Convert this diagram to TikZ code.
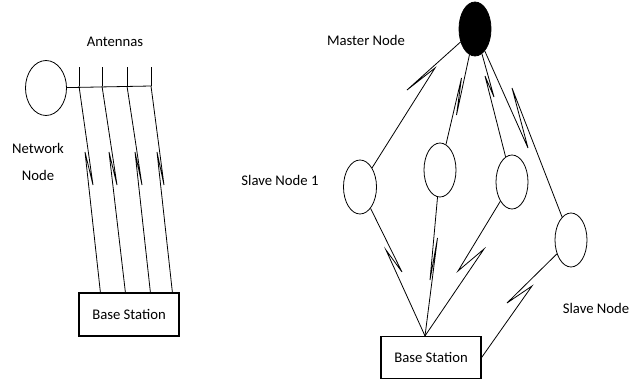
\documentclass[tikz,border=0pt]{standalone}
\usepackage{fontspec}
\setmainfont{Carlito}
\usetikzlibrary{shapes.geometric}
\tikzset{
  every node/.style={font=\fontsize{14.7}{27}\selectfont},
  unit/.style={draw, line width=0.8pt, ellipse, inner sep=0pt, minimum width=33pt, minimum height=54pt},
  station/.style={draw, line width=1.2pt, inner sep=0pt, minimum width=100pt, minimum height=43pt},
  link/.style={line width=0.8pt}
}
\begin{document}
\begin{tikzpicture}[x=1pt,y=-1pt]
    \useasboundingbox (0,0) rectangle (640,380);
    \node [unit, minimum width=41pt, minimum height=55pt] (nn) at (46,88) {};
    \node [align=center] (nnl) at (38,162) {Network\\Node};
    \node (antl) at (115,42) {Antennas};
    \node [station] (bs1) at (129,314.5) {Base Station};
    \foreach \i/\x in {1/79,2/102,3/127,4/151} {
        \coordinate (t\i) at (\x,67);
        \coordinate (a\i) at (\x,86);
    }
    \foreach \i/\s in {1/22,2/47,3/72,4/94}
        \coordinate (b\i) at ([xshift=\s pt]bs1.north west);
    \draw [link] (nn) -- (a4);
    \foreach \i in {1,...,4}
        \draw [link] (t\i) -- (a\i);
    \foreach \i/\lx/\ux in {1/93/85,2/117/109,3/142/135,4/164/157}
        \draw [link] (a\i) -- (\lx,185) -- (\ux,152) -- (b\i);
    \node [unit, fill=black, minimum width=32pt] (mn) at (475,29) {};
    \node (mnl) at (366,40) {Master Node};
    \node [unit] (s1) at (360,187) {};
    \node [unit, minimum width=32pt] (s2) at (440,170) {};
    \node [unit, minimum width=32pt] (s3) at (512,182) {};
    \node [unit, minimum width=32pt] (s4) at (571,240) {};
    \node (s1l) at (280,180) {Slave Node 1};
    \node (s4l) at (596,308) {Slave Node};
    \node [station, minimum height=42pt] (bs2) at (431,357.5) {Base Station};
    \coordinate (hub) at ([xshift=-6pt]bs2.north);
    \draw [link] (mn) -- (407,90) -- (435,68) -- (s1);
    \draw [link] (mn) -- (456.5,115) -- (461.5,78) -- (s2);
    \draw [link] (mn) -- (494,97) -- (485,76) -- (s3);
    \draw [link] (mn) -- (528,148) -- (512,88) -- (s4);
    \draw [link] (s1) -- (402,272) -- (386,250) -- (hub);
    \draw [link] (s2) -- (430,280) -- (437.5,238) -- (hub);
    \draw [link] (s3) -- (458,271) -- (484,249) -- (hub);
    \draw [link] (s4) -- (507,303) -- (532,286) -- (bs2.east);
\end{tikzpicture}
\end{document}
